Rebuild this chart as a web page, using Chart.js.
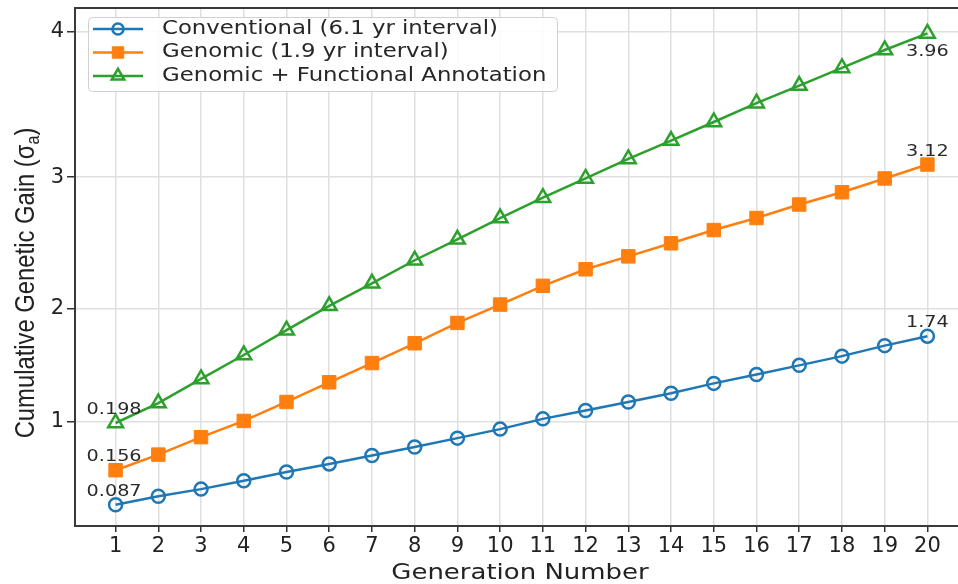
<!DOCTYPE html>
<html>
<head>
<meta charset="utf-8">
<script src="https://cdn.jsdelivr.net/npm/chart.js@4.4.1/dist/chart.umd.min.js"></script>
<style>
  html, body { margin: 0; padding: 0; background: #fff; overflow: hidden; }
  #wrap { width: 958px; height: 584px; overflow: hidden; }
  canvas { display: block; }
</style>
</head>
<body>
<!-- the canvas is a little wider than the window: the right edge of the plot frame lies outside the picture -->
<div id="wrap"><canvas id="gainChart" width="968" height="584"></canvas></div>
<script>
const generations = [1, 2, 3, 4, 5, 6, 7, 8, 9, 10, 11, 12, 13, 14, 15, 16, 17, 18, 19, 20];
const seriesLabels = ['Conventional (6.1 yr interval)', 'Genomic (1.9 yr interval)', 'Genomic + Functional Annotation'];
const conventional = [0.08, 0.19, 0.28, 0.38, 0.48, 0.57, 0.66, 0.75, 0.84, 0.93, 1.03, 1.11, 1.19, 1.27, 1.36, 1.44, 1.52, 1.60, 1.69, 1.77];
const genomic = [0.50, 0.67, 0.85, 1.01, 1.19, 1.37, 1.54, 1.71, 1.88, 2.03, 2.18, 2.31, 2.41, 2.51, 2.61, 2.70, 2.80, 2.89, 2.99, 3.09];
const functional = [0.99, 1.18, 1.40, 1.61, 1.82, 2.02, 2.20, 2.38, 2.54, 2.70, 2.85, 2.99, 3.13, 3.26, 3.39, 3.52, 3.64, 3.76, 3.88, 3.99];
const startLabels = ['0.087', '0.156', '0.198'];
const endLabels = ['1.74', '3.12', '3.96'];
const yTicks = [1, 2, 3, 4];
const xTitle = 'Generation Number';
const yTitleMain = 'Cumulative Genetic Gain (σ';
const yTitleSub = 'a';
const yTitleEnd = ')';

const BLUE = '#1f77b4';
const ORANGE = '#ff7f0e';
const GREEN = '#2ca02c';
const TEXT = '#222';
const DEJAVU = '"DejaVu Sans", sans-serif';

// the y axis of the picture is stretched towards the top, so use a power scale
const WARP_SHIFT = 0.5;
const WARP_EXP = 1.35;
function warp(v) {
    const s = v + WARP_SHIFT;
    return Math.sign(s) * Math.pow(Math.abs(s), WARP_EXP);
}
function unwarp(t) {
    return Math.sign(t) * Math.pow(Math.abs(t), 1 / WARP_EXP) - WARP_SHIFT;
}

class PowerScale extends Chart.LinearScale {
    static id = 'power';
    getPixelForValue(value) {
        if (value === null || value === undefined || isNaN(value)) return NaN;
        const a = warp(this.min), b = warp(this.max);
        return this.getPixelForDecimal((warp(value) - a) / (b - a));
    }
    getValueForPixel(pixel) {
        const a = warp(this.min), b = warp(this.max);
        return unwarp(a + this.getDecimalForPixel(pixel) * (b - a));
    }
}
Chart.register(PowerScale);

function toPoints(values) {
    return values.map((v, i) => ({ x: generations[i], y: v }));
}

function stretchText(ctx, text, x, y, sx, align) {
    ctx.save();
    ctx.translate(x, y);
    ctx.scale(sx, 1);
    ctx.textAlign = align;
    ctx.fillText(text, 0, 0);
    ctx.restore();
}

function noEdgePadding(s) {
    s.paddingTop = 0;
    s.paddingBottom = 0;
    s.paddingLeft = 0;
    s.paddingRight = 0;
}

const framePlugin = {
    id: 'frame',
    afterDatasetsDraw(chart) {
        const { ctx, chartArea } = chart;
        ctx.save();
        ctx.strokeStyle = '#3a3a3a';
        ctx.lineWidth = 2;
        ctx.beginPath();
        ctx.moveTo(chartArea.left - 1, chartArea.top);
        ctx.lineTo(chartArea.right, chartArea.top);
        ctx.stroke();
        ctx.restore();
    }
};

const valueLabelPlugin = {
    id: 'valueLabels',
    afterDatasetsDraw(chart) {
        const ctx = chart.ctx;
        ctx.save();
        ctx.fillStyle = '#2a2a2a';
        ctx.font = '16px ' + DEJAVU;
        ctx.textBaseline = 'middle';
        chart.data.datasets.forEach((ds, i) => {
            const pts = chart.getDatasetMeta(i).data;
            const first = pts[0];
            const last = pts[pts.length - 1];
            stretchText(ctx, startLabels[i], first.x - 29, first.y - 13, 1.2, 'left');
            const dy = i === 2 ? 18 : -13;
            stretchText(ctx, endLabels[i], last.x, last.y + dy, 1.2, 'center');
        });
        ctx.restore();
    }
};

const legendPlugin = {
    id: 'boxLegend',
    afterDraw(chart) {
        const ctx = chart.ctx;
        const x = 88, y = 17, w = 469, h = 74;
        ctx.save();
        ctx.fillStyle = 'rgba(255,255,255,0.85)';
        ctx.strokeStyle = '#d0d0d0';
        ctx.lineWidth = 1;
        ctx.beginPath();
        ctx.roundRect(x + 0.5, y + 0.5, w, h, 4);
        ctx.fill();
        ctx.stroke();

        chart.data.datasets.forEach((ds, i) => {
            const cy = 29 + i * 23.5;
            ctx.strokeStyle = ds.borderColor;
            ctx.lineWidth = ds.borderWidth;
            ctx.beginPath();
            ctx.moveTo(93, cy);
            ctx.lineTo(143, cy);
            ctx.stroke();
            ctx.fillStyle = ds.pointBackgroundColor;
            ctx.strokeStyle = ds.pointBorderColor;
            ctx.lineWidth = ds.pointBorderWidth;
            Chart.helpers.drawPoint(ctx, {
                pointStyle: ds.pointStyle,
                radius: ds.pointRadius * 0.85,
                rotation: 0,
                borderWidth: ds.pointBorderWidth
            }, 118, cy);
            ctx.fillStyle = '#262626';
            ctx.font = '19px ' + DEJAVU;
            ctx.textBaseline = 'middle';
            stretchText(ctx, ds.label, 162, cy, 1.2, 'left');
        });
        ctx.restore();
    }
};

const titlePlugin = {
    id: 'axisTitles',
    afterDraw(chart) {
        const ctx = chart.ctx;
        ctx.save();
        ctx.fillStyle = TEXT;
        ctx.textBaseline = 'alphabetic';

        // x title, centred on the visible part of the plot
        ctx.font = '22px ' + DEJAVU;
        stretchText(ctx, xTitle, 520, 579, 1.18, 'center');

        // y title with subscript
        const mainFont = '28px "Liberation Sans", Arial, sans-serif';
        const subFont = '19px "Liberation Sans", Arial, sans-serif';
        ctx.font = mainFont;
        const w1 = ctx.measureText(yTitleMain).width;
        const w3 = ctx.measureText(yTitleEnd).width;
        ctx.font = subFont;
        const w2 = ctx.measureText(yTitleSub).width;
        const total = w1 + w2 + w3;
        ctx.translate(24, 283);
        ctx.rotate(-Math.PI / 2);
        ctx.scale(0.85, 1);
        ctx.textAlign = 'left';
        let cx = -total / 2;
        ctx.font = mainFont;
        ctx.fillText(yTitleMain, cx, 10);
        cx += w1;
        ctx.font = subFont;
        ctx.fillText(yTitleSub, cx, 15);
        cx += w2;
        ctx.font = mainFont;
        ctx.fillText(yTitleEnd, cx, 10);
        ctx.restore();
    }
};

const ctx = document.getElementById('gainChart').getContext('2d');
new Chart(ctx, {
    type: 'line',
    data: {
        datasets: [
            {
                label: seriesLabels[0],
                data: toPoints(conventional),
                borderColor: BLUE,
                borderWidth: 2.5,
                pointStyle: 'circle',
                pointRadius: 6.5,
                pointBorderWidth: 2.5,
                pointBorderColor: BLUE,
                pointBackgroundColor: 'rgba(0,0,0,0)',
                tension: 0
            },
            {
                label: seriesLabels[1],
                data: toPoints(genomic),
                borderColor: ORANGE,
                borderWidth: 2.5,
                pointStyle: 'rect',
                pointRadius: 9.5,
                pointBorderWidth: 1,
                pointBorderColor: ORANGE,
                pointBackgroundColor: ORANGE,
                tension: 0
            },
            {
                label: seriesLabels[2],
                data: toPoints(functional),
                borderColor: GREEN,
                borderWidth: 2.5,
                pointStyle: 'triangle',
                pointRadius: 8.5,
                pointBorderWidth: 2.5,
                pointBorderColor: GREEN,
                pointBackgroundColor: 'rgba(0,0,0,0)',
                tension: 0
            }
        ]
    },
    options: {
        responsive: false,
        animation: false,
        devicePixelRatio: 1,
        layout: { autoPadding: false, padding: { top: 8, left: 0, right: 0, bottom: 0 } },
        plugins: {
            legend: { display: false },
            tooltip: { enabled: false }
        },
        scales: {
            x: {
                type: 'linear',
                min: 0.05,
                max: 20.95,
                bounds: 'data',
                afterBuildTicks: s => { s.ticks = generations.map(v => ({ value: v })); },
                afterFit: s => { s.height = 58; noEdgePadding(s); },
                ticks: {
                    callback: v => String(v),
                    color: TEXT,
                    font: { family: DEJAVU, size: 21 },
                    padding: 2,
                    maxRotation: 0,
                    autoSkip: false
                },
                grid: { color: '#e0e0e0', lineWidth: 1.5, tickColor: '#333', tickLength: 6, tickWidth: 1.5 },
                border: { display: true, color: '#3a3a3a', width: 2 }
            },
            y: {
                type: 'power',
                min: -0.245,
                max: 4.157,
                bounds: 'data',
                afterBuildTicks: s => { s.ticks = yTicks.map(v => ({ value: v })); },
                afterFit: s => { s.width = 75; noEdgePadding(s); },
                ticks: {
                    callback: v => String(v),
                    color: TEXT,
                    font: { family: DEJAVU, size: 21 },
                    padding: 3
                },
                grid: { color: '#e0e0e0', lineWidth: 1.5, tickColor: '#333', tickLength: 8, tickWidth: 1.5 },
                border: { display: true, color: '#3a3a3a', width: 2 }
            }
        }
    },
    plugins: [framePlugin, valueLabelPlugin, legendPlugin, titlePlugin]
});
</script>
</body>
</html>
